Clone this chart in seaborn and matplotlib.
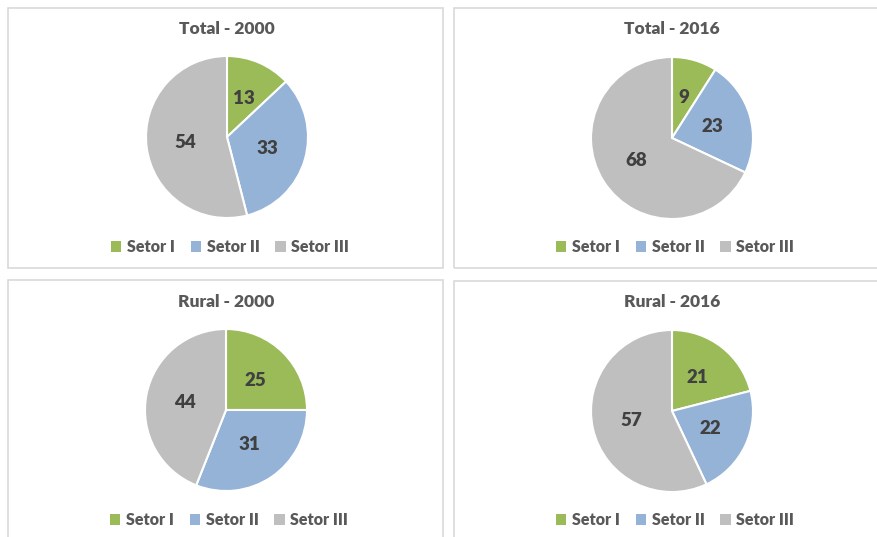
import matplotlib
matplotlib.use("Agg")
import matplotlib.pyplot as plt
from matplotlib.patches import Rectangle, Patch
import seaborn as sns

# ---------- data ----------
setores = ["Setor I", "Setor II", "Setor III"]
titles = ["Total - 2000", "Total - 2016", "Rural - 2000", "Rural - 2016"]
total_2000 = [13, 33, 54]
total_2016 = [9, 23, 68]
rural_2000 = [25, 31, 44]
rural_2016 = [21, 22, 57]
colors = ["#9BBB59", "#95B3D7", "#BFBFBF"]

sns.set_theme(style="white")
plt.rcParams["font.family"] = ["Lato", "DejaVu Sans"]

W, H = 878, 537
fig = plt.figure(figsize=(W / 100, H / 100), dpi=100)
fig.patch.set_facecolor("white")

def fx(px): return px / W
def fy(py): return 1 - py / H

# panel boxes (left, top, right, bottom) in pixels
boxes = [(8, 8, 443, 268), (454, 8, 890, 268),
         (8, 280, 443, 550), (454, 281, 890, 550)]
centers = [(227, 137), (672, 138), (226, 410), (672, 411)]
radius = 81
series = [total_2000, total_2016, rural_2000, rural_2016]

for (l, t, r, b) in boxes:
    fig.patches.append(Rectangle((fx(l), fy(b)), fx(r - l), (b - t) / H,
                                 transform=fig.transFigure, fill=False,
                                 edgecolor="#D9D9D9", linewidth=1.2))

for i, vals in enumerate(series):
    cx, cy = centers[i]
    ax = fig.add_axes([fx(cx - radius), fy(cy + radius), 2 * radius / W, 2 * radius / H])
    wedges, _, autotexts = ax.pie(vals, colors=colors, startangle=90, counterclock=False,
                                  autopct="%.0f", pctdistance=0.52,
                                  wedgeprops=dict(edgecolor="white", linewidth=1.5))
    for txt, v in zip(autotexts, vals):
        txt.set_text(str(v))
        txt.set_fontsize(13.5)
        txt.set_fontweight("heavy")
        txt.set_color("#404040")
    ax.set_xlim(-1, 1); ax.set_ylim(-1, 1)
    ax.set_aspect("equal")
    ax.axis("off")

    fig.text(fx(cx), fy(29 if i < 2 else 302), titles[i], ha="center", va="center",
             fontsize=12.5, fontweight="heavy", color="#595959")

    handles = [Patch(facecolor=c, edgecolor="none") for c in colors]
    fig.legend(handles, setores, loc="center", ncol=3, frameon=False,
               bbox_to_anchor=(fx(cx + 3), fy(247 if i < 2 else 520)),
               prop=dict(size=11.5, weight="heavy"), labelcolor="#595959",
               handlelength=0.65, handleheight=0.65, handletextpad=0.35, columnspacing=1.0)

fig.savefig("out.png", dpi=100, facecolor="white")
